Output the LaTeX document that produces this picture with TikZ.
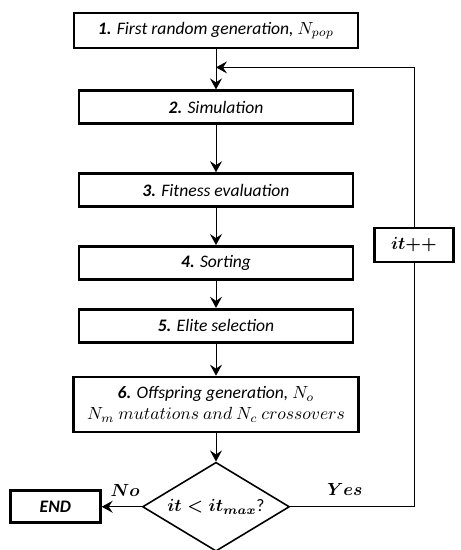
\documentclass[tikz,border=0pt]{standalone}
\usepackage{fontspec}
\setmainfont{Carlito}
\usetikzlibrary{arrows.meta,positioning,shapes.geometric,shadows,calc}

\begin{document}
\begin{tikzpicture}[
  state/.style={
    draw,
    line width=1.6pt,
    fill=white,
    drop shadow={shadow xshift=0.7pt,shadow yshift=-0.7pt,opacity=0.3},
    minimum width=5.48cm,
    minimum height=0.66cm,
    align=center,
    font=\itshape
  },
  choice/.style={
    draw,
    shape=diamond,
    line width=0.9pt,
    aspect=1.65,
    minimum width=2.94cm,
    minimum height=1.78cm,
    inner sep=0pt,
    font=\boldmath
  },
  label/.style={font=\boldmath},
  arrow/.style={-{Stealth[length=2.2mm,width=2.4mm,inset=0.8mm]},line width=0.5pt}
]
  \useasboundingbox (-4.32,0.61) rectangle (4.9,-10.39);

  % main column
  \node[state,minimum width=5.68cm,minimum height=0.7cm] (gen)
    {\textbf{1.} First random generation, $N_{pop}$};
  \node[state,below=0.8cm of gen] (sim) {\textbf{2.} Simulation};
  \node[state,below=0.94cm of sim] (fit) {\textbf{3.} Fitness evaluation};
  \node[state,below=0.74cm of fit] (sort) {\textbf{4.} Sorting};
  \node[state,below=0.54cm of sort] (elite) {\textbf{5.} Elite selection};
  \node[state,minimum width=5.7cm,minimum height=1.1cm,below=0.64cm of elite] (offs)
    {\textbf{6.} Offspring generation, $N_o$\\
     $N_m\ mutations\ and\ N_c\ crossovers$};
  \node[choice,below=0.56cm of offs] (cond)
    {$it\;{<}\;it_{max}$?};
  \node[state,minimum width=1.8cm,minimum height=0.64cm,left=0.8cm of cond] (stop)
    {\textbf{END}};
  \node[state,label,minimum width=1.58cm,minimum height=0.68cm] (inc) at (3.96,-4.29)
    {$it{+}{+}$};
  \coordinate (join) at ($(gen.south)!0.45!(sim.north)$);

  \draw[arrow] (gen) -- (sim);
  \draw[arrow] (sim) -- (fit);
  \draw[arrow] (fit) -- (sort);
  \draw[arrow] (sort) -- (elite);
  \draw[arrow] (elite) -- (offs);
  \draw[arrow] (offs) -- (cond);
  \draw[arrow] (cond) -- node[label,above=2pt,xshift=2pt]{$No$} (stop);

  % loop back
  \draw[line width=0.5pt] (cond.east) -| node[label,above=3pt,pos=0.22]{$Yes$} (inc.south);
  \draw[arrow] (inc.north) |- (join);
\end{tikzpicture}
\end{document}
